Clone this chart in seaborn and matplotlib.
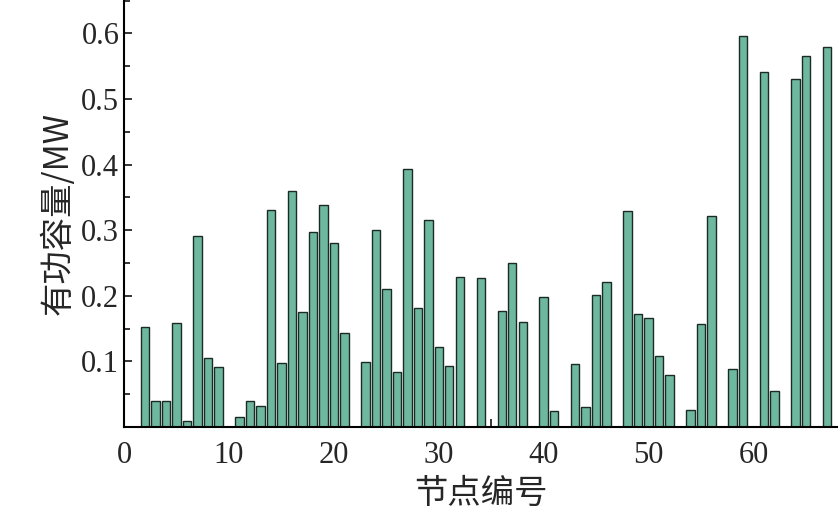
import matplotlib
matplotlib.use("Agg")
import matplotlib.pyplot as plt
import seaborn as sns
import pandas as pd

# node numbers and active capacity (MW); missing nodes have no bar
nodes = [2, 3, 4, 5, 6, 7, 8, 9, 11, 12, 13, 14, 15, 16, 17, 18, 19, 20, 21,
         23, 24, 25, 26, 27, 28, 29, 30, 31, 32, 34, 36, 37, 38, 40, 41,
         43, 44, 45, 46, 48, 49, 50, 51, 52, 54, 55, 56, 58, 59, 61, 62,
         64, 65, 67]
capacity = [0.152, 0.040, 0.040, 0.158, 0.009, 0.292, 0.105, 0.092, 0.015,
            0.040, 0.032, 0.331, 0.097, 0.360, 0.175, 0.297, 0.338, 0.281,
            0.144, 0.099, 0.301, 0.210, 0.084, 0.394, 0.182, 0.316, 0.122,
            0.093, 0.228, 0.227, 0.177, 0.250, 0.160, 0.198, 0.024, 0.096,
            0.030, 0.202, 0.221, 0.329, 0.172, 0.166, 0.108, 0.079, 0.026,
            0.157, 0.321, 0.089, 0.596, 0.541, 0.055, 0.530, 0.565, 0.580]

df = pd.DataFrame({"node": nodes, "cap": capacity})

sns.set_style("ticks")
plt.rcParams["font.family"] = ["Liberation Serif", "Noto Sans CJK SC"]

fig = plt.figure(figsize=(8.39, 5.24), dpi=100)
ax = fig.add_axes([0.148, 0.185, 0.85, 0.815])
ax.bar(df["node"], df["cap"], width=0.8, color="#6fb8a0",
       edgecolor="#1a2a24", linewidth=1.0)

ax.set_xlim(0, 68)
ax.set_ylim(0, 0.651)
ax.set_xticks([0, 10, 20, 30, 40, 50, 60])
ax.set_yticks([0.1, 0.2, 0.3, 0.4, 0.5, 0.6])
ax.set_yticklabels(["0.1", "0.2", "0.3", "0.4", "0.5", "0.6"])
ax.set_yticks([0.05, 0.15, 0.25, 0.35, 0.45, 0.55, 0.65], minor=True)
ax.set_xticks([10, 35, 60], minor=True)
ax.tick_params(axis="x", which="major", length=0, labelsize=22, pad=10)
ax.tick_params(axis="x", which="minor", length=6, direction="in", width=1.3)
ax.tick_params(axis="y", which="both", direction="in", labelsize=22,
               length=6, width=1.3)
ax.tick_params(axis="y", which="minor", length=4)
for s in ["top", "right"]:
    ax.spines[s].set_visible(False)
for s in ["left", "bottom"]:
    ax.spines[s].set_linewidth(1.5)
    ax.spines[s].set_color("black")

ax.set_xlabel("节点编号", fontsize=24, family=["Noto Sans CJK SC", "Liberation Serif"])
ax.set_ylabel("有功容量/MW", fontsize=24, family=["Noto Sans CJK SC", "Liberation Serif"])

fig.savefig("out.png", dpi=100)
